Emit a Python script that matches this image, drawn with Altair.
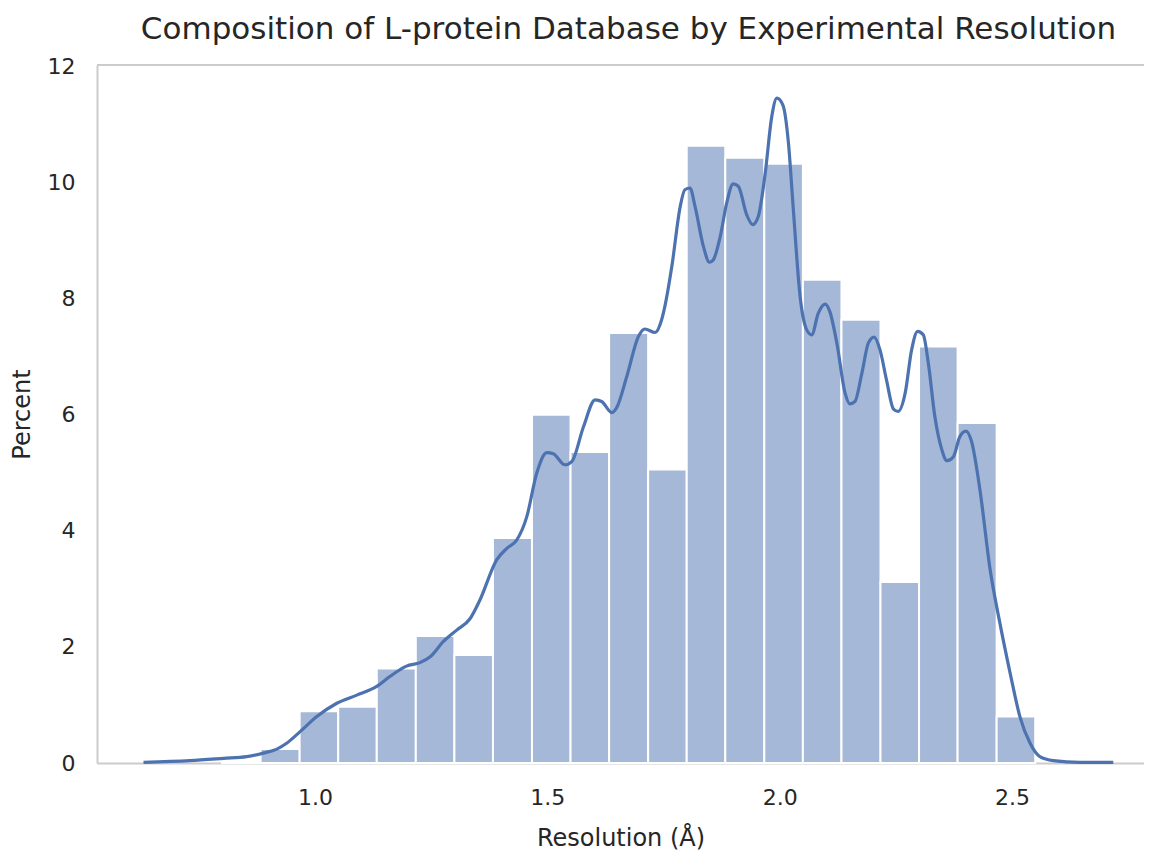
import altair as alt
import pandas as pd

# Histogram bins (Resolution, Å) and percent per bin
bin_start = [0.800, 0.883, 0.967, 1.050, 1.133, 1.217, 1.300, 1.383, 1.467, 1.550,
             1.633, 1.717, 1.800, 1.883, 1.967, 2.050, 2.133, 2.217, 2.300, 2.383, 2.467]
bin_end = [0.883, 0.967, 1.050, 1.133, 1.217, 1.300, 1.383, 1.467, 1.550, 1.633,
           1.717, 1.800, 1.883, 1.967, 2.050, 2.133, 2.217, 2.300, 2.383, 2.467, 2.550]
percent = [0.03, 0.24, 0.89, 0.97, 1.63, 2.19, 1.86, 3.88, 6.00, 5.36,
           7.41, 5.06, 10.64, 10.43, 10.33, 8.33, 7.64, 3.12, 7.18, 5.86, 0.80]

# KDE curve (scaled to percent)
kde_x = [0.631, 0.731, 0.803, 0.853, 0.889, 0.918, 0.939, 0.968, 1.004, 1.047,
         1.090, 1.133, 1.161, 1.197, 1.226, 1.248, 1.276, 1.305, 1.334, 1.355,
         1.391, 1.413, 1.434, 1.456, 1.477, 1.499, 1.513, 1.538, 1.553, 1.578,
         1.603, 1.617, 1.639, 1.649, 1.671, 1.696, 1.710, 1.732, 1.746, 1.753,
         1.768, 1.786, 1.796, 1.807, 1.818, 1.836, 1.849, 1.857, 1.872, 1.886,
         1.900, 1.911, 1.929, 1.942, 1.954, 1.969, 1.983, 1.994, 2.007, 2.019,
         2.029, 2.044, 2.058, 2.069, 2.083, 2.098, 2.108, 2.123, 2.141, 2.151,
         2.162, 2.177, 2.191, 2.203, 2.216, 2.230, 2.245, 2.255, 2.270, 2.284,
         2.297, 2.309, 2.320, 2.334, 2.349, 2.360, 2.374, 2.388, 2.401, 2.413,
         2.431, 2.453, 2.474, 2.496, 2.517, 2.539, 2.560, 2.589, 2.646, 2.718]
kde_y = [0.01, 0.04, 0.08, 0.11, 0.17, 0.24, 0.34, 0.54, 0.80, 1.03,
         1.17, 1.32, 1.49, 1.67, 1.73, 1.83, 2.09, 2.29, 2.49, 2.81,
         3.50, 3.70, 3.84, 4.25, 4.99, 5.35, 5.33, 5.14, 5.20, 5.80,
         6.26, 6.23, 6.04, 6.12, 6.66, 7.35, 7.48, 7.42, 7.64, 7.87,
         8.56, 9.59, 9.88, 9.91, 9.59, 8.90, 8.63, 8.67, 9.07, 9.65,
         9.98, 9.94, 9.45, 9.28, 9.42, 10.17, 11.14, 11.46, 11.34, 10.68,
         9.59, 8.04, 7.47, 7.38, 7.75, 7.91, 7.78, 7.24, 6.37, 6.19,
         6.23, 6.72, 7.24, 7.34, 7.12, 6.60, 6.10, 6.06, 6.37, 7.12,
         7.44, 7.38, 6.89, 5.97, 5.40, 5.21, 5.28, 5.63, 5.72, 5.54,
         4.71, 3.33, 2.41, 1.55, 0.80, 0.34, 0.11, 0.04, 0.01, 0.01]

x_ticks = [1.0, 1.5, 2.0, 2.5]
y_ticks = [0, 2, 4, 6, 8, 10, 12]

W, H = 1047, 698
FONT = "DejaVu Sans"
TXT = "#262626"
SPINE = "#CCCCCC"
BLUE = "#4C72B0"

hist_df = pd.DataFrame({"start": bin_start, "end": bin_end, "pct": percent})
kde_df = pd.DataFrame({"x": kde_x, "y": kde_y})

xscale = alt.Scale(domain=[0.5309, 2.7841], nice=False, zero=False)
yscale = alt.Scale(domain=[0, 12.03], nice=False)

xaxis = alt.Axis(values=x_ticks, format=".1f", title="Resolution (Å)", grid=False,
                 ticks=False, domainColor=SPINE, domainWidth=2, labelFontSize=22,
                 labelColor=TXT, labelFont=FONT, labelPadding=24, titleFontSize=24,
                 titleFont=FONT, titleColor=TXT, titleFontWeight="normal", titlePadding=18)
yaxis = alt.Axis(values=y_ticks, format="d", title="Percent", grid=False, ticks=False,
                 domainColor=SPINE, domainWidth=2, labelFontSize=22, labelColor=TXT,
                 labelFont=FONT, labelPadding=22, titleFontSize=24, titleFont=FONT,
                 titleColor=TXT, titleFontWeight="normal", titleX=-75, titleY=H / 2,
                 titleAngle=270, titleAlign="center", titleBaseline="middle")

bars = alt.Chart(hist_df).mark_rect(
    fill=BLUE, fillOpacity=0.5, stroke="white", strokeWidth=2, strokeOpacity=1
).encode(
    x=alt.X("start:Q", scale=xscale, axis=xaxis),
    x2="end:Q",
    y=alt.Y("pct:Q", scale=yscale, axis=yaxis),
    y2=alt.datum(0),
)

line = alt.Chart(kde_df).mark_line(color=BLUE, strokeWidth=3.2, interpolate="monotone").encode(
    x=alt.X("x:Q", scale=xscale),
    y=alt.Y("y:Q", scale=yscale),
)

top = alt.Chart(pd.DataFrame({"a": [0]})).mark_rule(color=SPINE, strokeWidth=2).encode(
    x=alt.value(0), x2=alt.value(W), y=alt.value(0)
)

chart = alt.layer(bars, line, top).properties(
    width=W, height=H,
    title=alt.TitleParams("Composition of L-protein Database by Experimental Resolution",
                          fontSize=31, font=FONT, color=TXT, fontWeight="normal",
                          anchor="middle", offset=10, dx=8),
    autosize=alt.AutoSizeParams(type="none"),
    padding={"left": 89, "top": 57, "right": 0, "bottom": 88},
).configure_view(stroke=None).configure(background="white")

chart.save("out.html", embed_options={"renderer": "svg", "actions": False})
